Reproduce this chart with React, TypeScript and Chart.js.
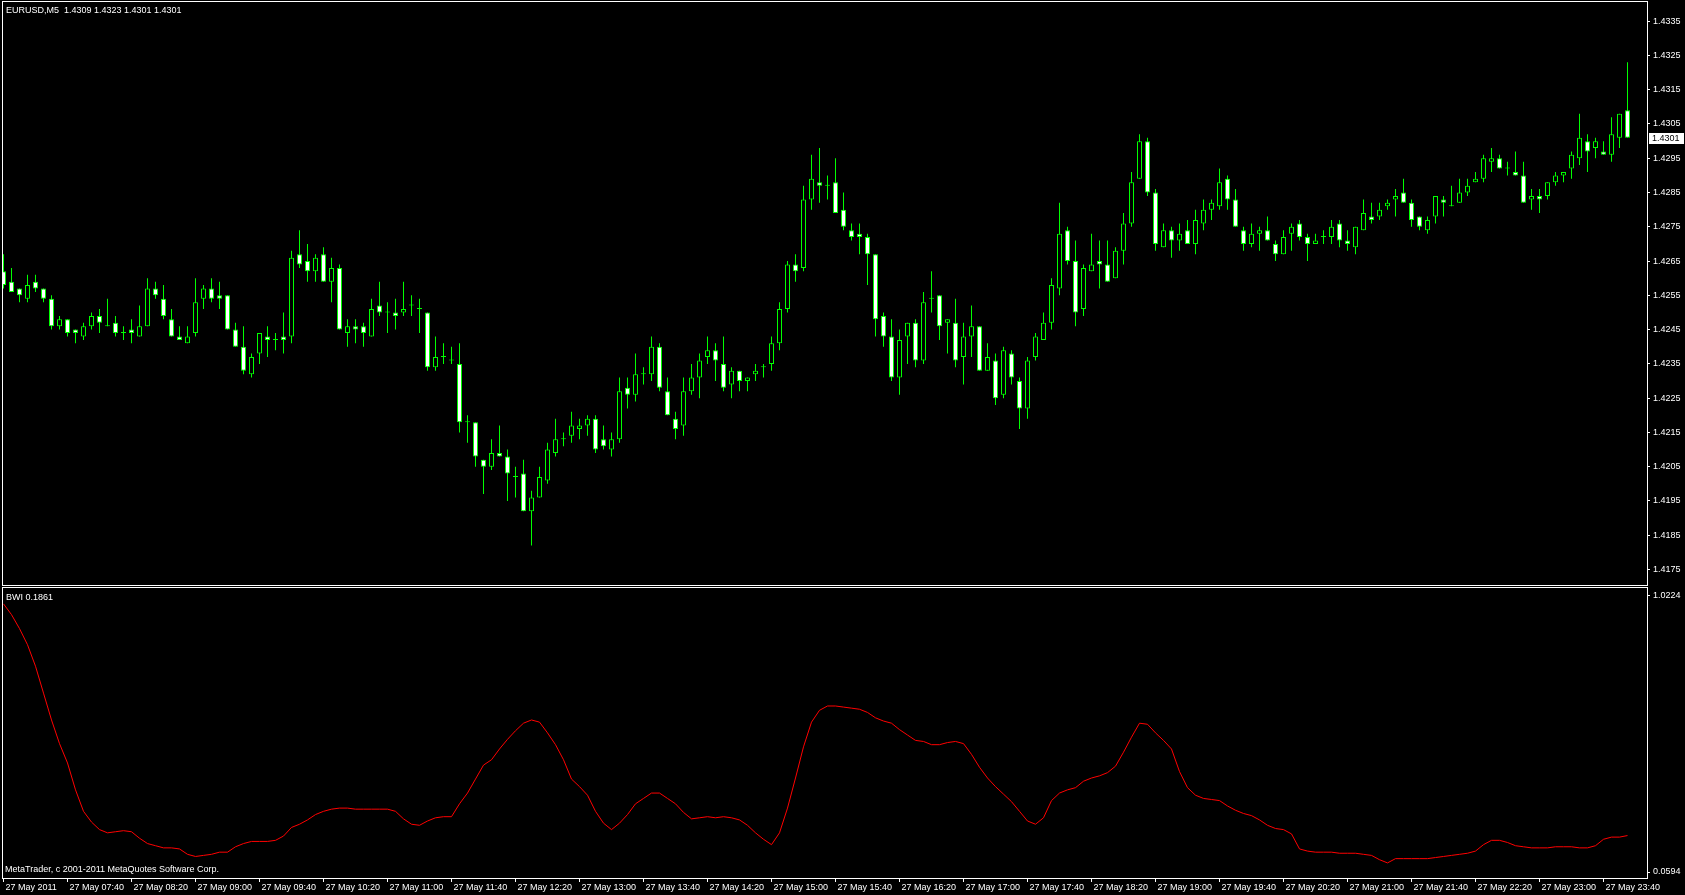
import React, { useEffect, useRef } from 'react';
import { Chart, registerables } from 'chart.js';

Chart.register(...registerables);

const symbolName = 'EURUSD,M5';
const indicatorName = 'BWI';
const copyrightText = 'MetaTrader, c 2001-2011 MetaQuotes Software Corp.';

const opens = [
  1.4262, 1.4259, 1.4257, 1.4254, 1.4259, 1.4257, 1.4254, 1.4246, 1.4248, 1.4245,
  1.4243, 1.4246, 1.4249, 1.4246, 1.4247, 1.4244, 1.4245, 1.4243, 1.4246, 1.4257,
  1.4254, 1.4248, 1.4243, 1.4241, 1.4244, 1.4254, 1.4257, 1.4255, 1.4255, 1.4245,
  1.4240, 1.4232, 1.4238, 1.4243, 1.4242, 1.4243, 1.4243, 1.4267, 1.4265, 1.4262,
  1.4267, 1.4259, 1.4263, 1.4244, 1.4246, 1.4246, 1.4243, 1.4252, 1.4250, 1.4250,
  1.4250, 1.4252, 1.4251, 1.4250, 1.4234, 1.4237, 1.4236, 1.4235, 1.4218, 1.4218,
  1.4207, 1.4205, 1.4209, 1.4208, 1.4202, 1.4203, 1.4192, 1.4196, 1.4201, 1.4209,
  1.4213, 1.4214, 1.4216, 1.4217, 1.4219, 1.4213, 1.4210, 1.4213, 1.4228, 1.4226,
  1.4232, 1.4232, 1.4240, 1.4227, 1.4219, 1.4217, 1.4227, 1.4231, 1.4237, 1.4239,
  1.4235, 1.4229, 1.4233, 1.4230, 1.4232, 1.4234, 1.4235, 1.4241, 1.4251, 1.4264,
  1.4263, 1.4283, 1.4288, 1.4287, 1.4288, 1.4280, 1.4274, 1.4273, 1.4272, 1.4267,
  1.4249, 1.4243, 1.4231, 1.4243, 1.4247, 1.4236, 1.4254, 1.4255, 1.4247, 1.4247,
  1.4237, 1.4243, 1.4246, 1.4233, 1.4236, 1.4226, 1.4238, 1.4230, 1.4222, 1.4237,
  1.4242, 1.4247, 1.4257, 1.4274, 1.4265, 1.4251, 1.4262, 1.4265, 1.4264, 1.4260,
  1.4268, 1.4276, 1.4289, 1.4300, 1.4285, 1.4269, 1.4274, 1.4271, 1.4274, 1.4270,
  1.4276, 1.4280, 1.4281, 1.4289, 1.4283, 1.4274, 1.4270, 1.4273, 1.4274, 1.4270,
  1.4267, 1.4273, 1.4276, 1.4272, 1.4270, 1.4272, 1.4272, 1.4276, 1.4271, 1.4269,
  1.4274, 1.4278, 1.4278, 1.4281, 1.4283, 1.4285, 1.4282, 1.4278, 1.4274, 1.4278,
  1.4283, 1.4281, 1.4282, 1.4285, 1.4288, 1.4289, 1.4294, 1.4295, 1.4292, 1.4291,
  1.4290, 1.4283, 1.4284, 1.4284, 1.4288, 1.4290, 1.4292, 1.4295, 1.4300, 1.4298,
  1.4297, 1.4296, 1.4301, 1.4309,
];

const highs = [
  1.4267, 1.4263, 1.4257, 1.4261, 1.4261, 1.4257, 1.4255, 1.4249, 1.4248, 1.4245,
  1.4247, 1.4250, 1.4251, 1.4254, 1.4249, 1.4246, 1.4248, 1.4252, 1.4260, 1.4259,
  1.4258, 1.4251, 1.4246, 1.4246, 1.4260, 1.4258, 1.4260, 1.4259, 1.4255, 1.4247,
  1.4246, 1.4238, 1.4244, 1.4246, 1.4244, 1.4250, 1.4268, 1.4274, 1.4270, 1.4267,
  1.4269, 1.4266, 1.4264, 1.4248, 1.4248, 1.4247, 1.4254, 1.4259, 1.4253, 1.4254,
  1.4259, 1.4255, 1.4254, 1.4250, 1.4243, 1.4241, 1.4240, 1.4241, 1.4220, 1.4218,
  1.4207, 1.4213, 1.4217, 1.4210, 1.4205, 1.4207, 1.4198, 1.4205, 1.4212, 1.4219,
  1.4215, 1.4221, 1.4219, 1.4220, 1.4220, 1.4217, 1.4215, 1.4231, 1.4231, 1.4238,
  1.4234, 1.4243, 1.4241, 1.4231, 1.4221, 1.4231, 1.4235, 1.4238, 1.4243, 1.4241,
  1.4243, 1.4234, 1.4233, 1.4231, 1.4235, 1.4235, 1.4243, 1.4253, 1.4265, 1.4267,
  1.4287, 1.4296, 1.4298, 1.4290, 1.4295, 1.4285, 1.4276, 1.4276, 1.4273, 1.4267,
  1.4250, 1.4248, 1.4245, 1.4247, 1.4248, 1.4256, 1.4262, 1.4255, 1.4248, 1.4254,
  1.4247, 1.4252, 1.4246, 1.4241, 1.4238, 1.4240, 1.4239, 1.4231, 1.4237, 1.4244,
  1.4250, 1.4260, 1.4282, 1.4275, 1.4271, 1.4264, 1.4273, 1.4271, 1.4271, 1.4269,
  1.4279, 1.4291, 1.4302, 1.4301, 1.4286, 1.4276, 1.4275, 1.4276, 1.4277, 1.4280,
  1.4283, 1.4283, 1.4292, 1.4290, 1.4286, 1.4275, 1.4276, 1.4275, 1.4278, 1.4271,
  1.4274, 1.4276, 1.4277, 1.4273, 1.4273, 1.4274, 1.4277, 1.4277, 1.4274, 1.4275,
  1.4283, 1.4282, 1.4282, 1.4283, 1.4286, 1.4289, 1.4283, 1.4278, 1.4278, 1.4284,
  1.4284, 1.4287, 1.4289, 1.4289, 1.4291, 1.4296, 1.4298, 1.4296, 1.4294, 1.4297,
  1.4294, 1.4286, 1.4286, 1.4288, 1.4291, 1.4291, 1.4297, 1.4308, 1.4302, 1.4301,
  1.4300, 1.4307, 1.4308, 1.4323,
];

const lows = [
  1.4257, 1.4256, 1.4253, 1.4253, 1.4256, 1.4253, 1.4245, 1.4245, 1.4243, 1.4241,
  1.4242, 1.4245, 1.4244, 1.4246, 1.4243, 1.4242, 1.4241, 1.4243, 1.4246, 1.4254,
  1.4248, 1.4243, 1.4242, 1.4241, 1.4243, 1.4251, 1.4253, 1.4251, 1.4245, 1.4240,
  1.4232, 1.4231, 1.4235, 1.4237, 1.4239, 1.4238, 1.4241, 1.4263, 1.4259, 1.4259,
  1.4259, 1.4253, 1.4245, 1.4240, 1.4241, 1.4240, 1.4243, 1.4249, 1.4244, 1.4245,
  1.4249, 1.4249, 1.4244, 1.4233, 1.4233, 1.4235, 1.4235, 1.4215, 1.4212, 1.4205,
  1.4197, 1.4204, 1.4208, 1.4195, 1.4196, 1.4192, 1.4182, 1.4196, 1.4200, 1.4208,
  1.4211, 1.4212, 1.4213, 1.4214, 1.4209, 1.4210, 1.4208, 1.4212, 1.4222, 1.4224,
  1.4229, 1.4230, 1.4227, 1.4220, 1.4213, 1.4214, 1.4226, 1.4225, 1.4235, 1.4230,
  1.4227, 1.4225, 1.4227, 1.4227, 1.4230, 1.4231, 1.4233, 1.4239, 1.4250, 1.4259,
  1.4262, 1.4280, 1.4282, 1.4283, 1.4279, 1.4274, 1.4271, 1.4267, 1.4258, 1.4243,
  1.4240, 1.4230, 1.4226, 1.4235, 1.4234, 1.4235, 1.4250, 1.4242, 1.4238, 1.4234,
  1.4229, 1.4237, 1.4233, 1.4233, 1.4223, 1.4225, 1.4229, 1.4216, 1.4219, 1.4236,
  1.4242, 1.4245, 1.4255, 1.4264, 1.4246, 1.4249, 1.4262, 1.4257, 1.4259, 1.4260,
  1.4264, 1.4275, 1.4289, 1.4284, 1.4268, 1.4269, 1.4266, 1.4268, 1.4270, 1.4267,
  1.4274, 1.4277, 1.4280, 1.4280, 1.4275, 1.4268, 1.4269, 1.4268, 1.4271, 1.4265,
  1.4267, 1.4268, 1.4271, 1.4265, 1.4270, 1.4270, 1.4270, 1.4269, 1.4268, 1.4267,
  1.4274, 1.4276, 1.4277, 1.4280, 1.4278, 1.4282, 1.4275, 1.4274, 1.4273, 1.4276,
  1.4278, 1.4281, 1.4282, 1.4284, 1.4288, 1.4288, 1.4291, 1.4292, 1.4290, 1.4290,
  1.4282, 1.4280, 1.4279, 1.4283, 1.4287, 1.4288, 1.4289, 1.4293, 1.4291, 1.4295,
  1.4296, 1.4294, 1.4298, 1.4301,
];

const closes = [
  1.4258, 1.4256, 1.4255, 1.4258, 1.4257, 1.4254, 1.4246, 1.4248, 1.4244, 1.4244,
  1.4246, 1.4249, 1.4247, 1.4246, 1.4244, 1.4244, 1.4244, 1.4246, 1.4257, 1.4255,
  1.4249, 1.4243, 1.4242, 1.4243, 1.4253, 1.4257, 1.4254, 1.4254, 1.4245, 1.4240,
  1.4233, 1.4237, 1.4244, 1.4242, 1.4242, 1.4242, 1.4266, 1.4264, 1.4262, 1.4266,
  1.4259, 1.4263, 1.4245, 1.4246, 1.4245, 1.4244, 1.4251, 1.4250, 1.4250, 1.4249,
  1.4251, 1.4252, 1.4251, 1.4234, 1.4237, 1.4237, 1.4236, 1.4218, 1.4218, 1.4208,
  1.4205, 1.4209, 1.4208, 1.4203, 1.4202, 1.4192, 1.4196, 1.4202, 1.4210, 1.4213,
  1.4213, 1.4217, 1.4217, 1.4219, 1.4210, 1.4211, 1.4213, 1.4227, 1.4226, 1.4232,
  1.4232, 1.4240, 1.4228, 1.4220, 1.4216, 1.4227, 1.4231, 1.4236, 1.4239, 1.4236,
  1.4228, 1.4233, 1.4230, 1.4231, 1.4233, 1.4234, 1.4241, 1.4251, 1.4264, 1.4262,
  1.4283, 1.4289, 1.4287, 1.4287, 1.4279, 1.4275, 1.4272, 1.4272, 1.4267, 1.4248,
  1.4243, 1.4231, 1.4242, 1.4247, 1.4236, 1.4253, 1.4254, 1.4246, 1.4248, 1.4236,
  1.4243, 1.4246, 1.4233, 1.4237, 1.4225, 1.4239, 1.4231, 1.4222, 1.4236, 1.4243,
  1.4247, 1.4258, 1.4273, 1.4265, 1.4250, 1.4263, 1.4264, 1.4264, 1.4259, 1.4268,
  1.4276, 1.4288, 1.4300, 1.4285, 1.4270, 1.4274, 1.4271, 1.4273, 1.4270, 1.4277,
  1.4280, 1.4282, 1.4288, 1.4283, 1.4275, 1.4270, 1.4273, 1.4274, 1.4271, 1.4267,
  1.4272, 1.4275, 1.4272, 1.4270, 1.4271, 1.4272, 1.4275, 1.4271, 1.4270, 1.4275,
  1.4279, 1.4277, 1.4280, 1.4282, 1.4284, 1.4282, 1.4277, 1.4275, 1.4277, 1.4284,
  1.4282, 1.4281, 1.4285, 1.4287, 1.4289, 1.4295, 1.4295, 1.4292, 1.4292, 1.4290,
  1.4282, 1.4284, 1.4283, 1.4288, 1.4290, 1.4291, 1.4296, 1.4301, 1.4297, 1.4300,
  1.4296, 1.4302, 1.4308, 1.4301,
];

const bwi = [
  0.9916, 0.9542, 0.9057, 0.8496, 0.7749, 0.6814, 0.5880, 0.5058, 0.4385, 0.3451,
  0.2704, 0.2330, 0.2068, 0.1956, 0.1994, 0.2031, 0.1994, 0.1769, 0.1583, 0.1508,
  0.1433, 0.1433, 0.1396, 0.1209, 0.1134, 0.1171, 0.1209, 0.1284, 0.1284, 0.1471,
  0.1583, 0.1657, 0.1657, 0.1657, 0.1695, 0.1844, 0.2143, 0.2255, 0.2405, 0.2591,
  0.2704, 0.2779, 0.2816, 0.2816, 0.2779, 0.2779, 0.2779, 0.2779, 0.2779, 0.2704,
  0.2442, 0.2255, 0.2218, 0.2367, 0.2479, 0.2517, 0.2517, 0.2965, 0.3339, 0.3825,
  0.4311, 0.4497, 0.4871, 0.5207, 0.5506, 0.5768, 0.5880, 0.5805, 0.5432, 0.5021,
  0.4497, 0.3825, 0.3563, 0.3264, 0.2704, 0.2292, 0.2068, 0.2292, 0.2591, 0.2965,
  0.3152, 0.3339, 0.3339, 0.3152, 0.2965, 0.2666, 0.2442, 0.2479, 0.2517, 0.2479,
  0.2517, 0.2479, 0.2405, 0.2218, 0.1956, 0.1732, 0.1545, 0.1956, 0.2816, 0.3862,
  0.4946, 0.5805, 0.6216, 0.6366, 0.6366, 0.6328, 0.6291, 0.6253, 0.6142, 0.5955,
  0.5843, 0.5768, 0.5544, 0.5357, 0.5170, 0.5133, 0.5021, 0.5021, 0.5095, 0.5133,
  0.5058, 0.4684, 0.4236, 0.3862, 0.3563, 0.3302, 0.3040, 0.2704, 0.2367, 0.2255,
  0.2479, 0.3077, 0.3339, 0.3451, 0.3526, 0.3750, 0.3862, 0.3937, 0.4049, 0.4273,
  0.4759, 0.5282, 0.5768, 0.5731, 0.5432, 0.5170, 0.4871, 0.4086, 0.3526, 0.3264,
  0.3152, 0.3115, 0.3077, 0.2890, 0.2741, 0.2629, 0.2554, 0.2405, 0.2218, 0.2106,
  0.2068, 0.1919, 0.1396, 0.1321, 0.1284, 0.1284, 0.1284, 0.1246, 0.1246, 0.1246,
  0.1209, 0.1171, 0.1022, 0.0910, 0.1059, 0.1059, 0.1059, 0.1059, 0.1059, 0.1097,
  0.1134, 0.1171, 0.1209, 0.1246, 0.1321, 0.1545, 0.1695, 0.1695, 0.1620, 0.1508,
  0.1471, 0.1433, 0.1433, 0.1433, 0.1471, 0.1471, 0.1471, 0.1433, 0.1433, 0.1508,
  0.1732, 0.1807, 0.1807, 0.1861,
];

const priceTicks = [
  1.4175, 1.4185, 1.4195, 1.4205, 1.4215, 1.4225, 1.4235, 1.4245, 1.4255,
  1.4265, 1.4275, 1.4285, 1.4295, 1.4305, 1.4315, 1.4325, 1.4335,
];
const bwiTicks = [1.0224, 0.0594];

const timeTickLabels = [
  '27 May 2011', '27 May 07:40', '27 May 08:20', '27 May 09:00', '27 May 09:40',
  '27 May 10:20', '27 May 11:00', '27 May 11:40', '27 May 12:20', '27 May 13:00',
  '27 May 13:40', '27 May 14:20', '27 May 15:00', '27 May 15:40', '27 May 16:20',
  '27 May 17:00', '27 May 17:40', '27 May 18:20', '27 May 19:00', '27 May 19:40',
  '27 May 20:20', '27 May 21:00', '27 May 21:40', '27 May 22:20', '27 May 23:00',
  '27 May 23:40',
];
const barsPerTimeTick = 8;

// visible ranges of the three scales
const xMin = -0.1875;
const xMax = 205.4375;
const priceMin = 1.417004;
const priceMax = 1.434089;
const bwiMin = 0.03854;
const bwiMax = 1.0521;

const FONT_FAMILY = '"Liberation Sans", Arial, sans-serif';
const FONT_SIZE = 9;
const GREEN = '#00ff00';
const WHITE = '#ffffff';

const noPadding = (s: any) => {
  s.paddingTop = 0;
  s.paddingBottom = 0;
  s.paddingLeft = 0;
  s.paddingRight = 0;
};

const mtPlugin = {
  id: 'mt4Frame',
  beforeDraw(chart: any) {
    const { ctx, width, height } = chart;
    ctx.save();
    ctx.fillStyle = '#000000';
    ctx.fillRect(0, 0, width, height);
    ctx.restore();
  },
  afterDraw(chart: any) {
    const { ctx, chartArea } = chart;
    const yP = chart.scales.y;
    const yI = chart.scales.y2;
    const n = closes.length;
    ctx.save();
    ctx.strokeStyle = WHITE;
    ctx.lineWidth = 1;
    const left = chartArea.left + 0.5;
    const w = chartArea.right - chartArea.left;
    const mainTop = chartArea.top + 0.5;
    const mainBottom = Math.floor(yP.bottom) - 1 + 0.5;
    ctx.strokeRect(left, mainTop, w, mainBottom - mainTop);
    const indTop = Math.ceil(yI.top) + 0.5;
    const indBottom = chartArea.bottom + 0.5;
    ctx.strokeRect(left, indTop, w, indBottom - indTop);

    ctx.font = `${FONT_SIZE}px ${FONT_FAMILY}`;
    ctx.textBaseline = 'middle';
    ctx.textAlign = 'left';
    ctx.fillStyle = WHITE;
    const header = `${symbolName}  ${opens[n - 1].toFixed(4)} ${highs[n - 1].toFixed(4)} ${lows[n - 1].toFixed(4)} ${closes[n - 1].toFixed(4)}`;
    ctx.fillText(header, chartArea.left + 4, mainTop + 9);
    ctx.fillText(`${indicatorName} ${bwi[n - 1].toFixed(4)}`, chartArea.left + 4, indTop + 10);
    ctx.fillText(copyrightText, chartArea.left + 3, indBottom - 9);

    // current price marker on the price axis
    const cy = Math.round(yP.getPixelForValue(closes[n - 1]));
    ctx.fillStyle = WHITE;
    ctx.fillRect(chartArea.right + 2, cy - 5, 35, 11);
    ctx.fillStyle = '#000000';
    ctx.fillText(closes[n - 1].toFixed(4), chartArea.right + 5, cy + 0.5);
    ctx.restore();
  },
};

export default function App() {
  const canvasRef = useRef<HTMLCanvasElement | null>(null);

  useEffect(() => {
    document.body.style.margin = '0';
    document.body.style.background = '#000000';
    const canvas = canvasRef.current;
    if (!canvas) return;
    const idx = closes.map((_, i) => i);
    const bodyData = idx.map((i) => ({ x: i, y: [opens[i], closes[i]] }));
    const wickData = idx.map((i) => ({ x: i, y: [lows[i], highs[i]] }));
    const bodyFill = idx.map((i) => (closes[i] < opens[i] ? WHITE : '#000000'));
    const bwiData = idx.map((i) => ({ x: i, y: bwi[i] }));
    const tickFont = { family: FONT_FAMILY, size: FONT_SIZE };

    const chart = new Chart(canvas, {
      type: 'bar',
      data: {
        datasets: [
          {
            type: 'bar',
            label: 'body',
            data: bodyData as any,
            backgroundColor: bodyFill,
            borderColor: GREEN,
            borderWidth: 1,
            borderSkipped: false,
            barThickness: 5,
            minBarLength: 1,
            grouped: false,
            inflateAmount: 0,
            xAxisID: 'x',
            yAxisID: 'y',
            order: 0,
          } as any,
          {
            type: 'bar',
            label: 'wick',
            data: wickData as any,
            backgroundColor: GREEN,
            borderWidth: 0,
            barThickness: 1,
            minBarLength: 1,
            grouped: false,
            inflateAmount: 0,
            xAxisID: 'x',
            yAxisID: 'y',
            order: 1,
          } as any,
          {
            type: 'line',
            label: indicatorName,
            data: bwiData as any,
            borderColor: '#ff0000',
            borderWidth: 1,
            pointRadius: 0,
            tension: 0,
            fill: false,
            xAxisID: 'x',
            yAxisID: 'y2',
            order: 2,
          } as any,
        ],
      },
      options: {
        responsive: false,
        animation: false,
        devicePixelRatio: 1,
        events: [],
        layout: { padding: { top: 1, left: 2, right: 0, bottom: 0 } },
        plugins: {
          legend: { display: false },
          tooltip: { enabled: false },
          title: { display: false },
        },
        scales: {
          x: {
            type: 'linear',
            position: 'bottom',
            min: xMin,
            max: xMax,
            offset: false,
            grid: { display: true, drawOnChartArea: false, drawTicks: true, tickLength: 4, color: WHITE, offset: false },
            border: { display: false },
            afterBuildTicks: (s: any) => {
              s.ticks = timeTickLabels.map((_, k) => ({ value: k * barsPerTimeTick }));
            },
            afterFit: (s: any) => {
              s.height = 17;
              noPadding(s);
            },
            ticks: {
              autoSkip: false,
              maxRotation: 0,
              minRotation: 0,
              align: 'start',
              labelOffset: 2,
              padding: 0,
              color: WHITE,
              font: tickFont,
              callback: (_v: any, k: number) => timeTickLabels[k],
            },
          },
          y: {
            type: 'linear',
            position: 'right',
            stack: 'panes',
            stackWeight: 585.5,
            min: priceMin,
            max: priceMax,
            grid: { display: true, drawOnChartArea: false, drawTicks: true, tickLength: 3, color: WHITE },
            border: { display: false },
            afterBuildTicks: (s: any) => {
              s.ticks = priceTicks.map((v) => ({ value: v }));
            },
            afterFit: (s: any) => {
              s.width = 38;
              noPadding(s);
            },
            ticks: {
              autoSkip: false,
              padding: 3,
              color: WHITE,
              font: tickFont,
              callback: (v: any) => Number(v).toFixed(4),
            },
          },
          y2: {
            type: 'linear',
            position: 'right',
            stack: 'panes',
            stackWeight: 291.5,
            min: bwiMin,
            max: bwiMax,
            grid: { display: true, drawOnChartArea: false, drawTicks: true, tickLength: 3, color: WHITE },
            border: { display: false },
            afterBuildTicks: (s: any) => {
              s.ticks = bwiTicks.map((v) => ({ value: v }));
            },
            afterFit: (s: any) => {
              s.width = 38;
              noPadding(s);
            },
            ticks: {
              autoSkip: false,
              padding: 3,
              color: WHITE,
              font: tickFont,
              callback: (v: any) => Number(v).toFixed(4),
            },
          },
        } as any,
      },
      plugins: [mtPlugin],
    });

    return () => {
      chart.destroy();
    };
  }, []);

  return (
    <div style={{ width: 1685, height: 895, background: '#000000' }}>
      <canvas ref={canvasRef} width={1685} height={895} style={{ display: 'block' }} />
    </div>
  );
}
